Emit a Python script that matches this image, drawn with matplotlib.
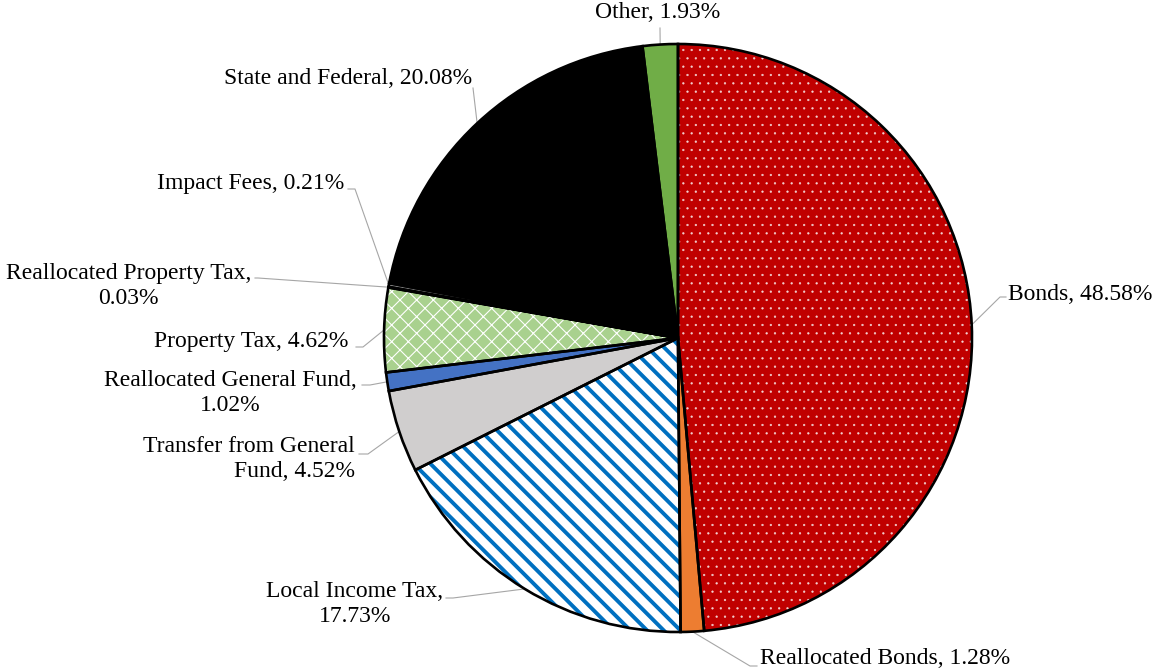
import numpy as np
import matplotlib
matplotlib.use("Agg")
import matplotlib.pyplot as plt
from matplotlib.patches import Wedge

# Funding sources (share of total, %)
sources = ["Bonds", "Reallocated Bonds", "Local Income Tax",
           "Transfer from General Fund", "Reallocated General Fund",
           "Property Tax", "Reallocated Property Tax", "Impact Fees",
           "State and Federal", "Other"]
shares = [48.58, 1.28, 17.73, 4.52, 1.02, 4.62, 0.03, 0.21, 20.08, 1.93]
label_texts = ["Bonds, 48.58%", "Reallocated Bonds, 1.28%",
               "Local Income Tax,\n17.73%", "Transfer from General\nFund, 4.52%",
               "Reallocated General Fund,\n1.02%", "Property Tax, 4.62%",
               "Reallocated Property Tax,\n0.03%", "Impact Fees, 0.21%",
               "State and Federal, 20.08%", "Other, 1.93%"]

face_colors = ["#C00000", "#ED7D31", "white", "#D0CECE", "#4472C4",
               "#A9D18E", "#255E91", "#7F7F7F", "black", "#70AD47"]
hatches = ["..", None, "\\\\", None, None, "xx", None, None, None, None]
hatch_colors = ["#F2D0D0", None, "#0070C0", None, None, "white",
                None, None, None, None]
hatch_widths = [0.4, None, 2.8, None, None, 0.8, None, None, None, None]

W, H = 1157, 670
fig = plt.figure(figsize=(W / 100, H / 100), dpi=100)
ax = fig.add_axes([0, 0, 1, 1])

cx, cy, R = 678, H - 338, 294
wedges, _ = ax.pie(shares, colors=face_colors, startangle=90,
                   counterclock=False, center=(cx, cy), radius=R,
                   frame=True, wedgeprops=dict(linewidth=0))

# hatch overlays, then black outlines on top
for w, h, hc, hw in zip(wedges, hatches, hatch_colors, hatch_widths):
    if h is None:
        continue
    plt.rcParams["hatch.linewidth"] = hw
    hp = Wedge(w.center, w.r, w.theta1, w.theta2, facecolor="none",
               edgecolor=hc, hatch=h, linewidth=0)
    if hasattr(hp, "set_hatch_linewidth"):
        hp.set_hatch_linewidth(hw)
    ax.add_patch(hp)
for w in wedges:
    ax.add_patch(Wedge(w.center, w.r, w.theta1, w.theta2, facecolor="none",
                       edgecolor="black", linewidth=1.9))

# label layout: text anchor (px), ha, multialignment, elbow points (px)
layout = [
    ((1008, 295), "left", "left", [(1000, 297), (1006, 297)]),
    ((760, 658), "left", "left", [(750, 666), (757, 666)]),
    ((355, 604), "center", "center", [(453, 598), (446, 598)]),
    ((355, 459), "right", "right", [(368, 454), (359, 454)]),
    ((357, 393), "right", "center", [(370, 385), (362, 385)]),
    ((348, 341), "right", "right", [(363, 347), (356, 347)]),
    ((251, 286), "right", "center", [(258, 278), (255, 278)]),
    ((344, 183), "right", "right", [(355, 189), (348, 189)]),
    ((472, 78), "right", "right", [(473, 88), (473, 88)]),
    ((658, 13), "center", "center", [(660, 28), (660, 28)]),
]

for w, txt, (pos, ha, ma, elbow) in zip(wedges, label_texts, layout):
    mid = np.deg2rad((w.theta1 + w.theta2) / 2)
    px = w.center[0] + w.r * np.cos(mid)
    py = w.center[1] + w.r * np.sin(mid)
    xs = [px] + [e[0] for e in elbow]
    ys = [py] + [H - e[1] for e in elbow]
    ax.plot(xs, ys, color="#A6A6A6", linewidth=0.8, zorder=0.5)
    ax.text(pos[0], H - pos[1], txt, ha=ha, va="center", multialignment=ma,
            fontsize=17, family="Liberation Serif", linespacing=1.25)

ax.set_xlim(0, W)
ax.set_ylim(0, H)
ax.set_aspect("equal")
ax.axis("off")

plt.savefig("out.png", dpi=100)
